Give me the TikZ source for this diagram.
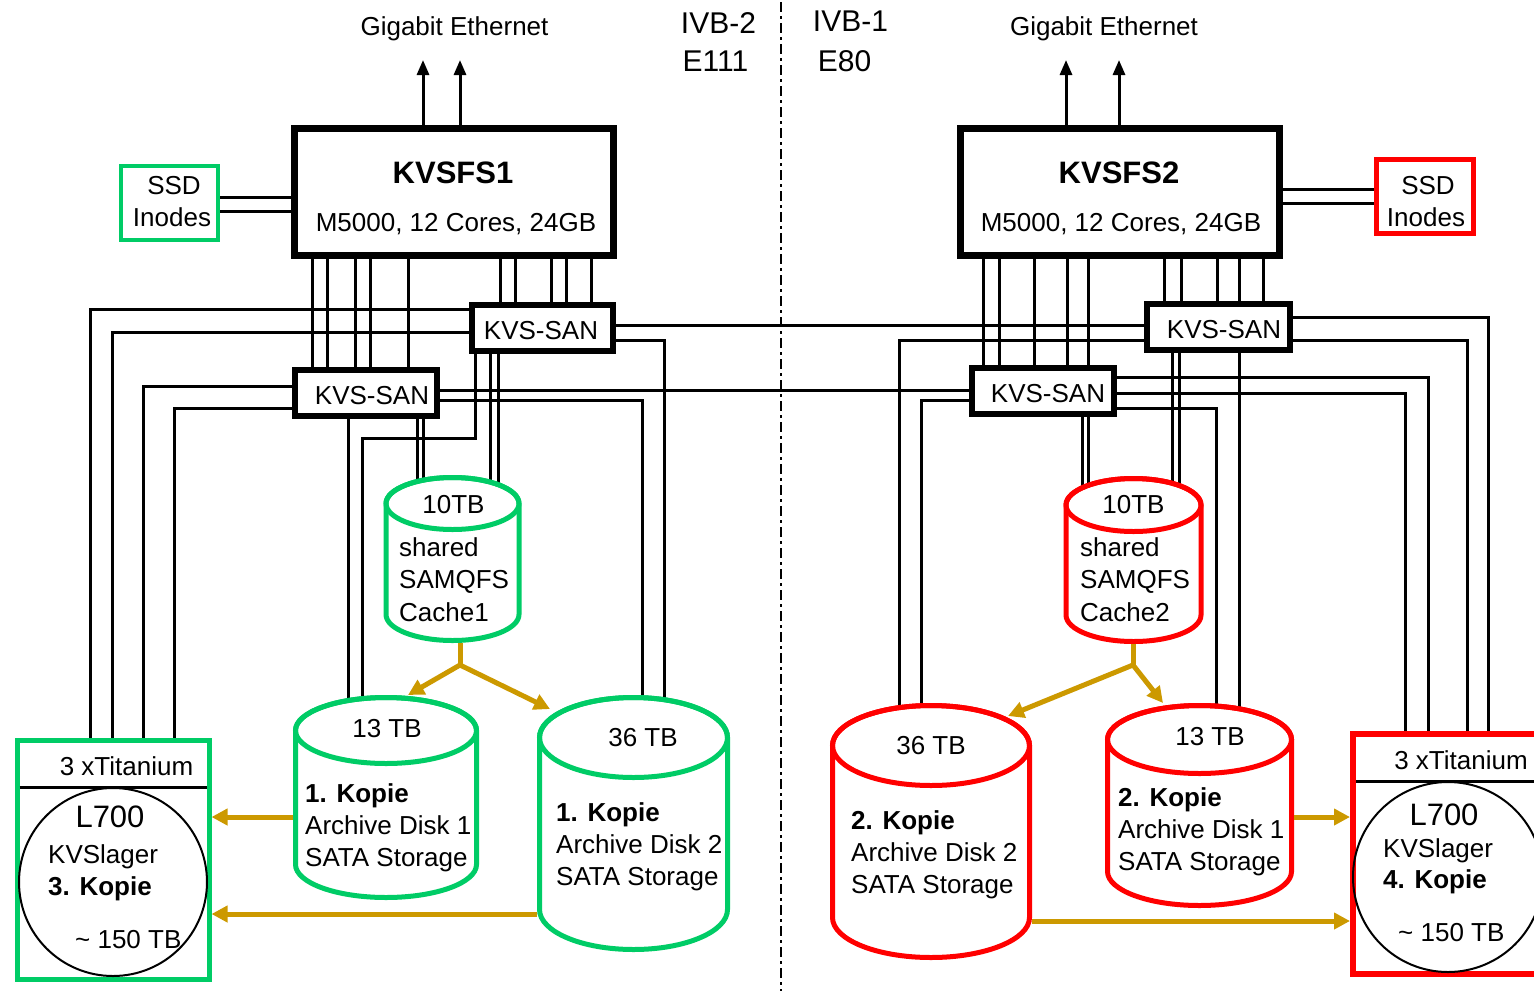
\documentclass[tikz,border=0pt]{standalone}
\usepackage{fontspec}
\setmainfont{Liberation Sans}
\usetikzlibrary{arrows.meta,calc}
\definecolor{kgreen}{RGB}{0,204,102}
\definecolor{kred}{RGB}{255,0,0}
\definecolor{kgold}{RGB}{204,153,0}
\pgfdeclarelayer{bg}
\pgfsetlayers{bg,main}
% name, colour, cx, top, bottom, rx, ry
\newcommand\mycyl[7]{%
  \node[inner sep=0pt, outer sep=2.5pt, minimum width={2*#6*1pt}, minimum height={(#5-#4)*1pt}] (#1) at (#3,{(#4+#5)/2}) {};
  \filldraw[draw=#2, fill=white, line width=5pt] ({#3-#6},{#4+#7}) -- ({#3-#6},{#5-#7})
    arc[start angle=180, end angle=0, x radius=#6, y radius=#7] -- ({#3+#6},{#4+#7})
    arc[start angle=0, end angle=-180, x radius=#6, y radius=#7] -- cycle;
  \draw[draw=#2, line width=5pt] (#3,{#4+#7}) ellipse[x radius=#6, y radius=#7];
}
\begin{document}
\begin{tikzpicture}[x=1pt,y=-1pt,
  every node/.style={font=\fontsize{26}{30}\selectfont},
  big/.style={font=\fontsize{30}{34}\selectfont},
  bigb/.style={font=\bfseries\fontsize{31}{36}\selectfont},
  bld/.style={font=\bfseries\fontsize{26}{30}\selectfont},
  txt/.style={inner sep=0pt, anchor=base},
  ltxt/.style={inner sep=0pt, anchor=base west},
  wire/.style={line width=3pt},
  ethr/.style={line width=3pt, -{Triangle[length=15pt,width=12pt]}},
  bigbox/.style={draw, line width=7pt, fill=white, inner sep=0pt, minimum width=319pt, minimum height=127pt},
  sanbox/.style={draw, line width=6pt, fill=white, inner sep=0pt, minimum width=142pt, minimum height=46pt},
  goldarr/.style={draw=kgold, line width=5pt, -{Triangle[length=16pt,width=16pt]}},
  goldline/.style={draw=kgold, line width=5pt},
  dashdotline/.style={line width=2pt, dash pattern=on 10pt off 4pt on 3pt off 4pt}
]
\useasboundingbox (0,0) rectangle (1534,991);
\clip (0,0) rectangle (1534,991);

% top labels
\node[txt] (geL) at (454.5,35) {Gigabit Ethernet};
\node[txt] (geR) at (1104,35) {Gigabit Ethernet};
\node[txt, big] (ivb2) at (718.5,33) {IVB-2};
\node[txt, big] (e111) at (715.5,71) {E111};
\node[txt, big] (ivb1) at (850.5,31) {IVB-1};
\node[txt, big] (e80) at (844.5,71) {E80};
\coordinate (divtop) at (781,2);
\coordinate (divbot) at (781,991);

% servers
\node[bigbox] (fs1) at (454,192) {};
\node[txt, bigb] at (453,183) {KVSFS1};
\node[txt] at (456,231) {M5000, 12 Cores, 24GB};
\node[bigbox] (fs2) at (1120,192) {};
\node[txt, bigb] at (1119,183) {KVSFS2};
\node[txt] at (1121,231) {M5000, 12 Cores, 24GB};
\coordinate (ge1a) at (423,60);
\coordinate (ge1b) at (460,60);
\coordinate (ge2a) at (1066,60);
\coordinate (ge2b) at (1119,60);

% SSD
\node[draw=kgreen, line width=4pt, fill=white, minimum width=97pt, minimum height=74pt, inner sep=0pt] (ssdL) at (169.5,203) {};
\node[txt] at (174,194) {SSD};
\node[txt] at (172,226) {Inodes};
\node[draw=kred, line width=5pt, fill=white, minimum width=97pt, minimum height=74pt, inner sep=0pt] (ssdR) at (1425,196.5) {};
\node[txt] at (1428,194) {SSD};
\node[txt] at (1426,226) {Inodes};

% SAN switches
\node[sanbox, minimum width=141pt] (sanLU) at (542.5,328) {};
\node[txt] at (541,339) {KVS-SAN};
\node[sanbox] (sanLL) at (366,392.5) {};
\node[txt] at (372,404) {KVS-SAN};
\node[sanbox, minimum width=143pt] (sanRU) at (1218.5,327) {};
\node[txt] at (1224,338) {KVS-SAN};
\node[sanbox] (sanRL) at (1043,391) {};
\node[txt] at (1048,402) {KVS-SAN};

% cylinders
\mycyl{c10L}{kgreen}{452.5}{477.5}{640.5}{66.5}{26}
\node[txt] at (453.5,513) {10TB};
\node[ltxt] at (399,556) {shared};
\node[ltxt] at (399,588) {SAMQFS};
\node[ltxt] at (399,621) {Cache1};

\mycyl{c10R}{kred}{1133.5}{478.5}{641.5}{67.5}{26.5}
\node[txt] at (1133.5,513) {10TB};
\node[ltxt] at (1080,556) {shared};
\node[ltxt] at (1080,588) {SAMQFS};
\node[ltxt] at (1080,621) {Cache2};

\mycyl{c13L}{kgreen}{386}{697.5}{897.5}{90.5}{33}
\node[txt] at (387,737) {13 TB};
\node[ltxt, bld] at (305,802) {1. Kopie};
\node[ltxt] at (305,834) {Archive Disk 1};
\node[ltxt] at (305,866) {SATA Storage};

\mycyl{c36L}{kgreen}{633.5}{697.5}{949.5}{94}{40}
\node[txt] at (643,746) {36 TB};
\node[ltxt, bld] at (556,821) {1. Kopie};
\node[ltxt] at (556,853) {Archive Disk 2};
\node[ltxt] at (556,885) {SATA Storage};

\mycyl{c36R}{kred}{931}{705.5}{957.5}{98.5}{40}
\node[txt] at (931,754) {36 TB};
\node[ltxt, bld] at (851,829) {2. Kopie};
\node[ltxt] at (851,861) {Archive Disk 2};
\node[ltxt] at (851,893) {SATA Storage};

\mycyl{c13R}{kred}{1199.5}{705.5}{905.5}{92}{34}
\node[txt] at (1210,745) {13 TB};
\node[ltxt, bld] at (1118,806) {2. Kopie};
\node[ltxt] at (1118,838) {Archive Disk 1};
\node[ltxt] at (1118,870) {SATA Storage};

% tape libraries
\node[draw=kgreen, line width=5pt, fill=white, minimum width=192pt, minimum height=239pt, inner sep=0pt] (tiL) at (113,859.5) {};
\draw[line width=3pt, shorten <=5pt, shorten >=5pt] (tiL.west |- 0,787) -- (tiL.east |- 0,787);
\node[circle, draw, line width=2pt, minimum size=188pt, inner sep=0pt] (circL) at (113,882) {};
\node[txt] at (126.5,775) {3 xTitanium};
\node[txt, font=\fontsize{31}{36}\selectfont] at (110,827) {L700};
\node[ltxt] at (48,863) {KVSlager};
\node[ltxt, bld] at (48,895) {3. Kopie};
\node[ltxt] at (75,948) {\textasciitilde{} 150 TB};

\node[draw=kred, line width=6pt, fill=white, minimum width=192pt, minimum height=240pt, inner sep=0pt] (tiR) at (1449,854) {};
\draw[line width=3pt, shorten <=6pt] (tiR.west |- 0,781) -- (tiR.east |- 0,781);
\node[circle, draw, line width=2pt, minimum size=190pt, inner sep=0pt] (circR) at (1448,877) {};
\node[txt] at (1461,769) {3 xTitanium};
\node[txt, font=\fontsize{31}{36}\selectfont] at (1444,825) {L700};
\node[ltxt] at (1383,857) {KVSlager};
\node[ltxt, bld] at (1383,888) {4. Kopie};
\node[ltxt] at (1398,941) {\textasciitilde{} 150 TB};

% copy flows (gold)
\coordinate (brL) at (460,665);
\coordinate (brR) at (1133,665);
\draw[goldline] (c10L.south -| brL) -- (brL);
\draw[goldarr] (brL) -- ($(c13L.north -| 408,0)+(0,0)$);
\draw[goldarr] (brL) -- ($(c36L.north -| 550,0)+(0,14)$);
\draw[goldarr] (c13L.west |- 0,817) -- (tiL.east |- 0,817);
\draw[goldarr] (c36L.west |- 0,914) -- (tiL.east |- 0,914);
\draw[goldline] (c10R.south -| brR) -- (brR);
\draw[goldarr] (brR) -- ($(c36R.north -| 1008,0)+(0,13)$);
\draw[goldarr] (brR) -- (c13R.north -| 1163,0);
\draw[goldarr] (c13R.east |- 0,817) -- (tiR.west |- 0,817);
\draw[goldarr] (c36R.east |- 0,921) -- (tiR.west |- 0,921);

\begin{pgfonlayer}{bg}
\draw[dashdotline] (divtop) -- (divbot);
\draw[ethr] (fs1.north -| ge1a) -- (ge1a);
\draw[ethr] (fs1.north -| ge1b) -- (ge1b);
\draw[ethr] (fs2.north -| ge2a) -- (ge2a);
\draw[ethr] (fs2.north -| ge2b) -- (ge2b);
\foreach \y in {197,211} \draw[wire] (ssdL.east |- 0,\y) -- (fs1.west |- 0,\y);
\foreach \y in {189,203} \draw[wire] (fs2.east |- 0,\y) -- (ssdR.west |- 0,\y);
\foreach \x in {312,327,355,370,408} \draw[wire] (fs1.south -| \x,0) -- (sanLL.north -| \x,0);
\foreach \x in {500,515,551,566,591} \draw[wire] (fs1.south -| \x,0) -- (sanLU.north -| \x,0);
\foreach \x in {983,999,1034,1067,1088} \draw[wire] (fs2.south -| \x,0) -- (sanRL.north -| \x,0);
\foreach \x in {1164,1181,1217,1239,1263} \draw[wire] (fs2.south -| \x,0) -- (sanRU.north -| \x,0);
% left side to tape library
\draw[wire] (sanLU.west |- 0,309) -| (tiL.north -| 90,0);
\draw[wire] (sanLU.west |- 0,332) -| (tiL.north -| 112,0);
\draw[wire] (sanLL.west |- 0,386) -| (tiL.north -| 143,0);
\draw[wire] (sanLL.west |- 0,408) -| (tiL.north -| 174,0);
% inter-site links
\draw[wire] (sanLU.east |- 0,325) -- (sanRU.west |- 0,325);
\draw[wire] (sanLL.east |- 0,390) -- (sanRL.west |- 0,390);
% left disks
\draw[wire] (sanLU.east |- 0,340) -| (c36L.center -| 664,0);
\draw[wire] (sanLL.east |- 0,400) -| (c36L.center -| 642,0);
\draw[wire] (sanLL.south -| 348,0) -- (c13L.center -| 348,0);
\draw[wire] (sanLU.south -| 475,0) |- (362,438) -- (c13L.center -| 362,0);
\foreach \x in {417,423} \draw[wire] (sanLL.south -| \x,0) -- (c10L.center -| \x,0);
\foreach \x in {490,498} \draw[wire] (sanLU.south -| \x,0) -- (c10L.center -| \x,0);
% right disks and library
\draw[wire] (sanRU.west |- 0,340) -| (c36R.center -| 899,0);
\draw[wire] (sanRL.west |- 0,400) -| (c36R.center -| 921,0);
\draw[wire] (sanRU.east |- 0,317) -| (tiR.north -| 1488,0);
\draw[wire] (sanRU.east |- 0,340) -| (tiR.north -| 1467,0);
\draw[wire] (sanRL.east |- 0,377) -| (tiR.north -| 1428,0);
\draw[wire] (sanRL.east |- 0,393) -| (tiR.north -| 1405,0);
\draw[wire] (sanRL.east |- 0,408) -| (c13R.center -| 1216,0);
\draw[wire] (sanRU.south -| 1239,0) -- (c13R.center -| 1239,0);
\foreach \x in {1082,1088} \draw[wire] (sanRL.south -| \x,0) -- (c10R.center -| \x,0);
\foreach \x in {1172,1179} \draw[wire] (sanRU.south -| \x,0) -- (c10R.center -| \x,0);
\end{pgfonlayer}
\end{tikzpicture}
\end{document}
